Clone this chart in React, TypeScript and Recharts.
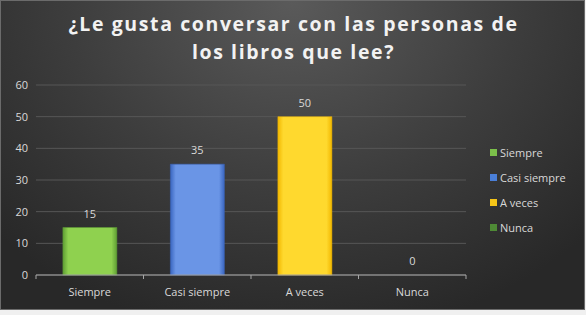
import React from 'react';
import { BarChart, Bar, XAxis, YAxis, CartesianGrid, Cell, LabelList } from 'recharts';

const categories = ['Siempre', 'Casi siempre', 'A veces', 'Nunca'];
const values = [15, 35, 50, 0];
const yTicks = [0, 10, 20, 30, 40, 50, 60];
const titleLines = ['¿Le gusta conversar con las personas de', 'los libros que lee?'];

const colorsTop = ['#8fd14f', '#6a95e6', '#ffd92e', '#5f9e45'];
const colorsBot = ['#5f9e34', '#3a66c0', '#f2b800', '#3f7a2a'];
const legendColors = ['#7cc04a', '#4a7fd8', '#f5c518', '#4e8a35'];

const data = categories.map((c, i) => ({ name: c, value: values[i] }));

const font = 'Open Sans, sans-serif';
const CHART_W = 586;
const MARGIN = { top: 85, right: 120, bottom: 10, left: 0 };
const Y_W = 36;
const BAND = (CHART_W - MARGIN.left - MARGIN.right - Y_W) / categories.length;

const XTick = (props: any) => {
  const { x, y, payload, index } = props;
  const half = BAND / 2;
  const axisY = y - 8;
  return (
    <g>
      <line x1={x - half} x2={x - half} y1={axisY} y2={axisY + 4} stroke="#a6a6a6" />
      {index === categories.length - 1 && (
        <line x1={x + half} x2={x + half} y1={axisY} y2={axisY + 4} stroke="#a6a6a6" />
      )}
      <text x={x} y={y + 13} textAnchor="middle" fill="#d9d9d9" fontSize={11} fontFamily={font}>
        {payload.value}
      </text>
    </g>
  );
};

export default function App() {
  return (
    <div style={{ position: 'absolute', left: 0, top: 0, width: 586, height: 315, background: '#f0f0f0' }}>
      <div
        style={{
          position: 'absolute',
          left: 0,
          top: 0,
          width: 585,
          height: 310,
          boxSizing: 'border-box',
          border: '1px solid #6b6b6b',
          background: 'radial-gradient(ellipse 70% 110% at 50% 0%, #5a5a5a 0%, #3d3d3d 55%, #282828 100%)',
          overflow: 'hidden',
        }}
      >
        <div
          style={{
            position: 'absolute',
            left: 0,
            top: 9,
            width: 585,
            textAlign: 'center',
            color: '#f2f2f2',
            fontFamily: font,
            fontWeight: 700,
            fontSize: 19.5,
            letterSpacing: 1.6,
            lineHeight: '28px',
          }}
        >
          {titleLines.map((l) => (
            <div key={l}>{l}</div>
          ))}
        </div>
        <div style={{ position: 'absolute', left: -1, top: -1 }}>
          <BarChart width={CHART_W} height={315} data={data} margin={MARGIN} barCategoryGap="25%">
            <defs>
              {colorsTop.map((c, i) => (
                <linearGradient key={i} id={`g${i}`} x1="0" y1="0" x2="1" y2="0">
                  <stop offset="0%" stopColor={colorsBot[i]} />
                  <stop offset="10%" stopColor={c} />
                  <stop offset="90%" stopColor={c} />
                  <stop offset="100%" stopColor={colorsBot[i]} />
                </linearGradient>
              ))}
            </defs>
            <CartesianGrid vertical={false} stroke="#575757" />
            <XAxis
              dataKey="name"
              height={30}
              axisLine={{ stroke: '#a6a6a6' }}
              tickLine={false}
              tick={<XTick />}
              tickMargin={2}
              interval={0}
            />
            <YAxis
              width={Y_W}
              domain={[0, 60]}
              ticks={yTicks}
              axisLine={false}
              tickLine={false}
              tick={{ fill: '#d9d9d9', fontSize: 11, fontFamily: font }}
            />
            <Bar dataKey="value" isAnimationActive={false} minPointSize={0.01}>
              {data.map((d, i) => (
                <Cell key={d.name} fill={`url(#g${i})`} stroke={d.value ? colorsBot[i] : 'none'} strokeWidth={0.5} />
              ))}
              <LabelList dataKey="value" position="top" offset={10} fill="#d9d9d9" fontSize={11} fontFamily={font} />
            </Bar>
          </BarChart>
        </div>
        <div
          style={{
            position: 'absolute',
            left: 489,
            top: 139,
            fontFamily: font,
            fontSize: 11,
            color: '#d9d9d9',
          }}
        >
          {categories.map((c, i) => (
            <div key={c} style={{ display: 'flex', alignItems: 'center', height: 25 }}>
              <span style={{ width: 7, height: 7, background: legendColors[i], display: 'inline-block', marginRight: 3 }} />
              {c}
            </div>
          ))}
        </div>
      </div>
    </div>
  );
}
